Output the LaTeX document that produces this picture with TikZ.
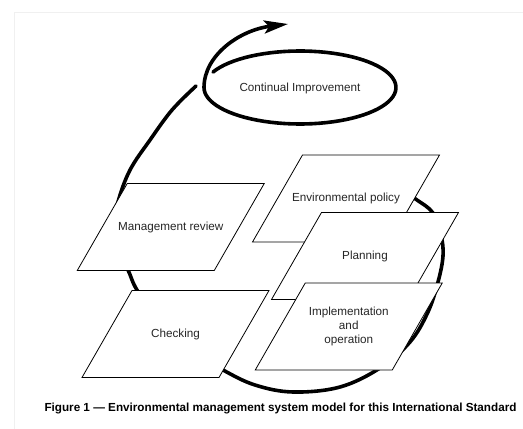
\documentclass[tikz,border=0pt]{standalone}
\usepackage{fontspec}
\setmainfont{Liberation Sans}
\usetikzlibrary{arrows.meta}
\begin{document}
\begin{tikzpicture}[x=1pt,y=-1pt]
	\tikzstyle{stage_box}=[draw,fill=white,line width=0.8pt,line join=miter]
	\tikzstyle{stage}=[align=center,text=black!85,font=\fontsize{11.7}{14.3}\selectfont]
	\tikzstyle{cycle}=[line width=3.6pt,line cap=round]

	\useasboundingbox (0,0) rectangle (523,429);
	\draw[black!6] (14,429) -- (14,12) -- (523,12);

	% big loop round the five stages
	\draw[cycle] plot[smooth,tension=0.6] coordinates {(398,188) (417,200) (433,213) (441,235) (443,256) (438,282) (428,312) (410,342) (380,368) (340,387) (293,392) (255,385) (223,370) (190,350) (160,322) (137,290) (128,270) (117,250) (113,232) (118,202) (130,170) (150,140) (172,110) (196,86)};

	% small loop and arrow
	\node[stage](improve) at (300,88){Continual Improvement};
	\draw[cycle,-{Stealth[length=24pt,width=13pt,inset=5pt]}] plot[domain=205:540,samples=80] ({300+96*cos(\x)},{87.5+36.5*sin(\x)}) .. controls (204,55) and (240,30) .. (288,24);

	% the five stages, parallelograms leaning right
	\foreach \cx/\cy/\name/\txt in {170.75/227/review/{Management review},
	                                175.5/334/check/{Checking},
	                                346/198.5/policy/{Environmental policy},
	                                365/256/plan/{Planning},
	                                348.75/326.5/impl/{Implementation\\and\\operation}}
	{
	  \draw[stage_box] (\cx-43.5,\cy-43.5) -- ++(137,0) -- ++(-50,87) -- ++(-137,0) -- cycle;
	  \node[stage](\name) at (\cx,\cy){\txt};
	}

	\node[font=\bfseries\fontsize{11.7}{14}\selectfont](caption) at (280.5,408){Figure 1 — Environmental management system model for this International Standard};
\end{tikzpicture}
\end{document}
